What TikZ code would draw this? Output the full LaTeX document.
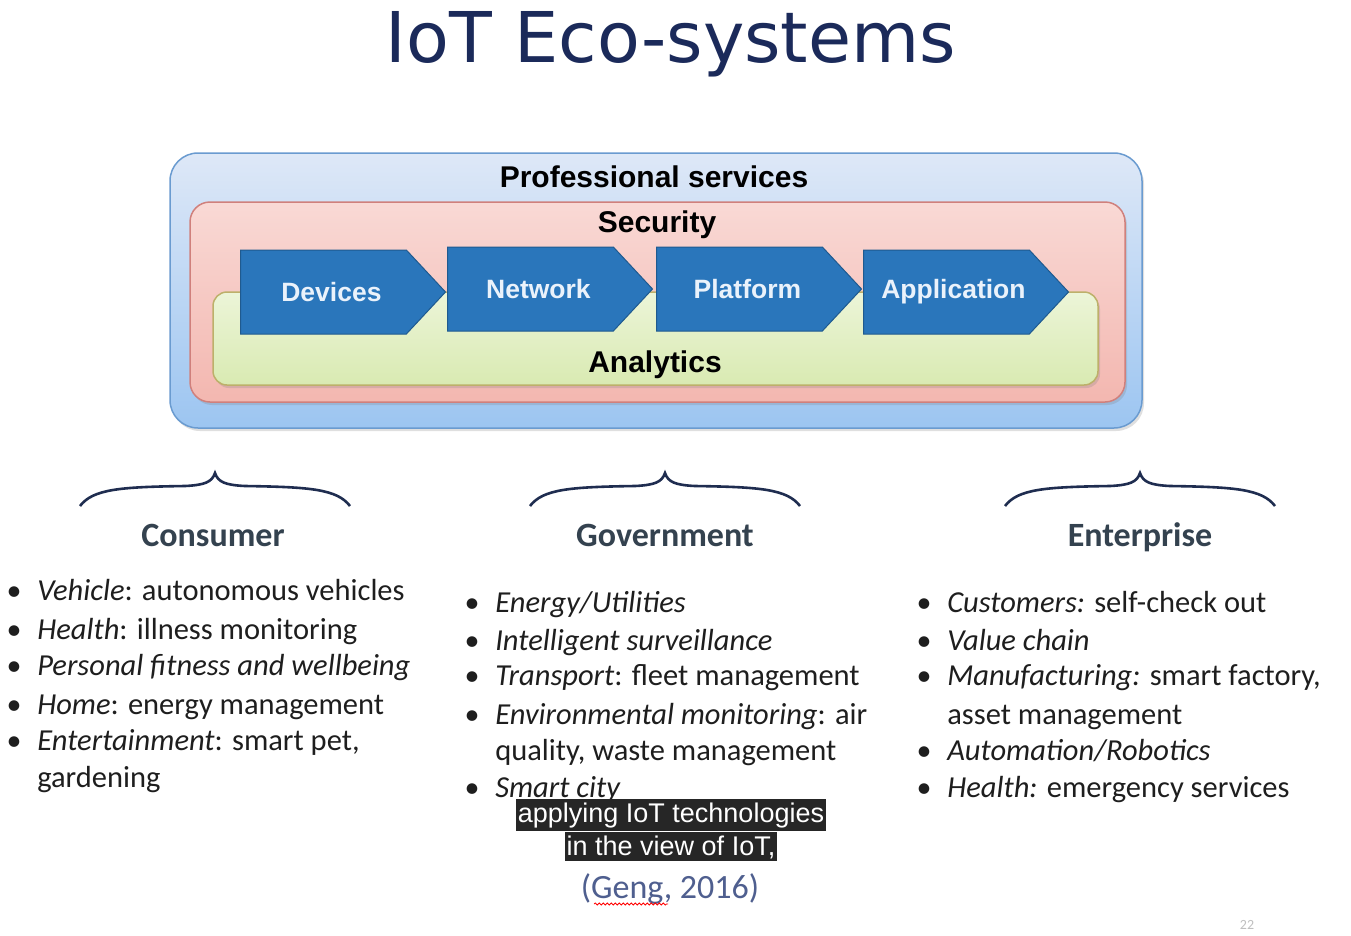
\documentclass[tikz,border=0pt]{standalone}
\usepackage{fontspec}
\setmainfont{Carlito}
\newfontfamily\arialfont{Liberation Sans}
\newfontfamily\titlefont{DejaVu Sans}
\usetikzlibrary{shapes.symbols,shadows,decorations.pathmorphing}
\definecolor{titleblue}{HTML}{1B2A5A}
\definecolor{braceblue}{HTML}{1F2D50}
\definecolor{headgray}{HTML}{34424F}
\definecolor{itemgray}{HTML}{1E1E1E}
\definecolor{stagefill}{HTML}{2A76BB}
\definecolor{stageedge}{HTML}{1F5A8F}
\definecolor{stagetext}{HTML}{EAF2FB}
\definecolor{citeblue}{HTML}{4F5F8F}
\definecolor{proftop}{HTML}{DEE8F7}
\definecolor{profbottom}{HTML}{9CC5F1}
\definecolor{profedge}{HTML}{6A9BD0}
\definecolor{sectop}{HTML}{F9D9D5}
\definecolor{secbottom}{HTML}{F3B7B0}
\definecolor{secedge}{HTML}{D0807C}
\definecolor{anatop}{HTML}{ECF5D8}
\definecolor{anabottom}{HTML}{D9EAB2}
\definecolor{anaedge}{HTML}{BDB06A}
\tikzstyle{layer}=[draw,line width=1.5pt,drop shadow={opacity=0.25,shadow xshift=2pt,shadow yshift=-3pt}]
\tikzstyle{layerlabel}=[anchor=base,inner sep=0pt,font=\arialfont\bfseries\fontsize{30}{34}\selectfont]
\tikzstyle{stage}=[signal,signal to=east,signal pointer angle=94,anchor=west,draw=stageedge,fill=stagefill,line width=1pt,text=stagetext,minimum width=205pt,minimum height=84pt,inner sep=0pt,font=\arialfont\bfseries\fontsize{26.5}{30}\selectfont]
\tikzstyle{header}=[anchor=base,inner sep=0pt,text=headgray,font=\bfseries\fontsize{34}{40}\selectfont]
\tikzstyle{item}=[anchor=base west,inner sep=0pt,text=itemgray,font=\fontsize{30.5}{36}\selectfont]
\tikzstyle{dot}=[anchor=base,inner sep=0pt,text=itemgray,font=\fontsize{30}{36}\selectfont]
\tikzstyle{caption}=[anchor=base,fill=black!85,text=white,inner xsep=2pt,inner ysep=3pt,font=\arialfont\fontsize{27}{30}\selectfont]

\begin{document}
\begin{tikzpicture}[
    x=1pt,
    y=-1pt,
    semithick
    ]
    \fill[white] (0,0) rectangle (1351,935);
    \useasboundingbox (0,0) rectangle (1351,935);
    \node[anchor=base,inner sep=0pt,text=titleblue,font=\titlefont\fontsize{70}{80}\selectfont](title) at (671,62){IoT Eco-systems};
    % nested layers
    \node[layer,draw=profedge,top color=proftop,bottom color=profbottom,rounded corners=28pt,minimum width=972pt,minimum height=275pt](prof) at (656,290.5){};
    \node[layer,draw=secedge,top color=sectop,bottom color=secbottom,rounded corners=20pt,minimum width=935pt,minimum height=200pt](sec) at (657.5,302){};
    \node[layer,draw=anaedge,top color=anatop,bottom color=anabottom,rounded corners=14pt,minimum width=885pt,minimum height=93pt](ana) at (655.5,338.5){};
    \node[layerlabel](proflabel) at (654,187){Professional services};
    \node[layerlabel](seclabel) at (657,232){Security};
    \node[layerlabel](analabel) at (655,372){Analytics};
    \node[stage](devices) at (240,292){\hspace*{16pt}Devices};
    \node[stage](network) at (447,289){\hspace*{16pt}Network};
    \node[stage](platform) at (656,289){\hspace*{16pt}Platform};
    \node[stage](application) at (863,292){\hspace*{14pt}Application};
    % braces
    \foreach \cx in {215,665,1140}
      \draw[braceblue,line width=2.6pt,xshift=\cx pt] (-135,506) .. controls (-122,489) and (-95,487) .. (-30,486) .. controls (-10,485) and (-3,482) .. (0,473) .. controls (3,482) and (10,485) .. (30,486) .. controls (95,487) and (122,489) .. (135,506);
    \node[header](consumer) at (213,546){Consumer};
    \node[header](government) at (665,546){Government};
    \node[header](enterprise) at (1140,546){Enterprise};
    % consumer
    \node[dot](c1b) at (14,600){\textbullet};
    \node[item](c1) at (37,600){\textit{Vehicle}: autonomous vehicles};
    \node[dot](c2b) at (14,639){\textbullet};
    \node[item](c2) at (37,639){\textit{Health}: illness monitoring};
    \node[dot](c3b) at (14,675){\textbullet};
    \node[item](c3) at (37,675){\textit{Personal fitness and wellbeing}};
    \node[dot](c4b) at (14,714){\textbullet};
    \node[item](c4) at (37,714){\textit{Home}: energy management};
    \node[dot](c5b) at (14,750){\textbullet};
    \node[item](c5) at (37,750){\textit{Entertainment}: smart pet,};
    \node[item](c6) at (37,787){gardening};
    % government
    \node[dot](g1b) at (472,612){\textbullet};
    \node[item](g1) at (495,612){\textit{Energy/Utilities}};
    \node[dot](g2b) at (472,650){\textbullet};
    \node[item](g2) at (495,650){\textit{Intelligent surveillance}};
    \node[dot](g3b) at (472,685){\textbullet};
    \node[item](g3) at (495,685){\textit{Transport}: fleet management};
    \node[dot](g4b) at (472,724){\textbullet};
    \node[item](g4) at (495,724){\textit{Environmental monitoring}: air};
    \node[item](g5) at (495,760){quality, waste management};
    \node[dot](g6b) at (472,797){\textbullet};
    \node[item](g6) at (495,797){\textit{Smart city}};
    % enterprise
    \node[dot](e1b) at (924,612){\textbullet};
    \node[item](e1) at (947,612){\textit{Customers:} self-check out};
    \node[dot](e2b) at (924,650){\textbullet};
    \node[item](e2) at (947,650){\textit{Value chain}};
    \node[dot](e3b) at (924,685){\textbullet};
    \node[item](e3) at (947,685){\textit{Manufacturing:} smart factory,};
    \node[item](e4) at (947,724){asset management};
    \node[dot](e5b) at (924,760){\textbullet};
    \node[item](e5) at (947,760){\textit{Automation/Robotics}};
    \node[dot](e6b) at (924,797){\textbullet};
    \node[item](e6) at (947,797){\textit{Health:} emergency services};
    % subtitle and source
    \node[caption](sub1) at (671,822){applying IoT technologies};
    \node[caption](sub2) at (671,855){in the view of IoT,};
    \node[anchor=base,inner sep=0pt,text=citeblue,font=\fontsize{34}{40}\selectfont](cite) at (670,898){(Geng, 2016)};
    \draw[red,line width=0.8pt,decorate,decoration={snake,amplitude=1pt,segment length=4pt}] (594,904) -- (668,904);
    \node[anchor=base,inner sep=0pt,text=black!25,font=\fontsize{14}{16}\selectfont](page) at (1247,929){22};
\end{tikzpicture}
\end{document}
